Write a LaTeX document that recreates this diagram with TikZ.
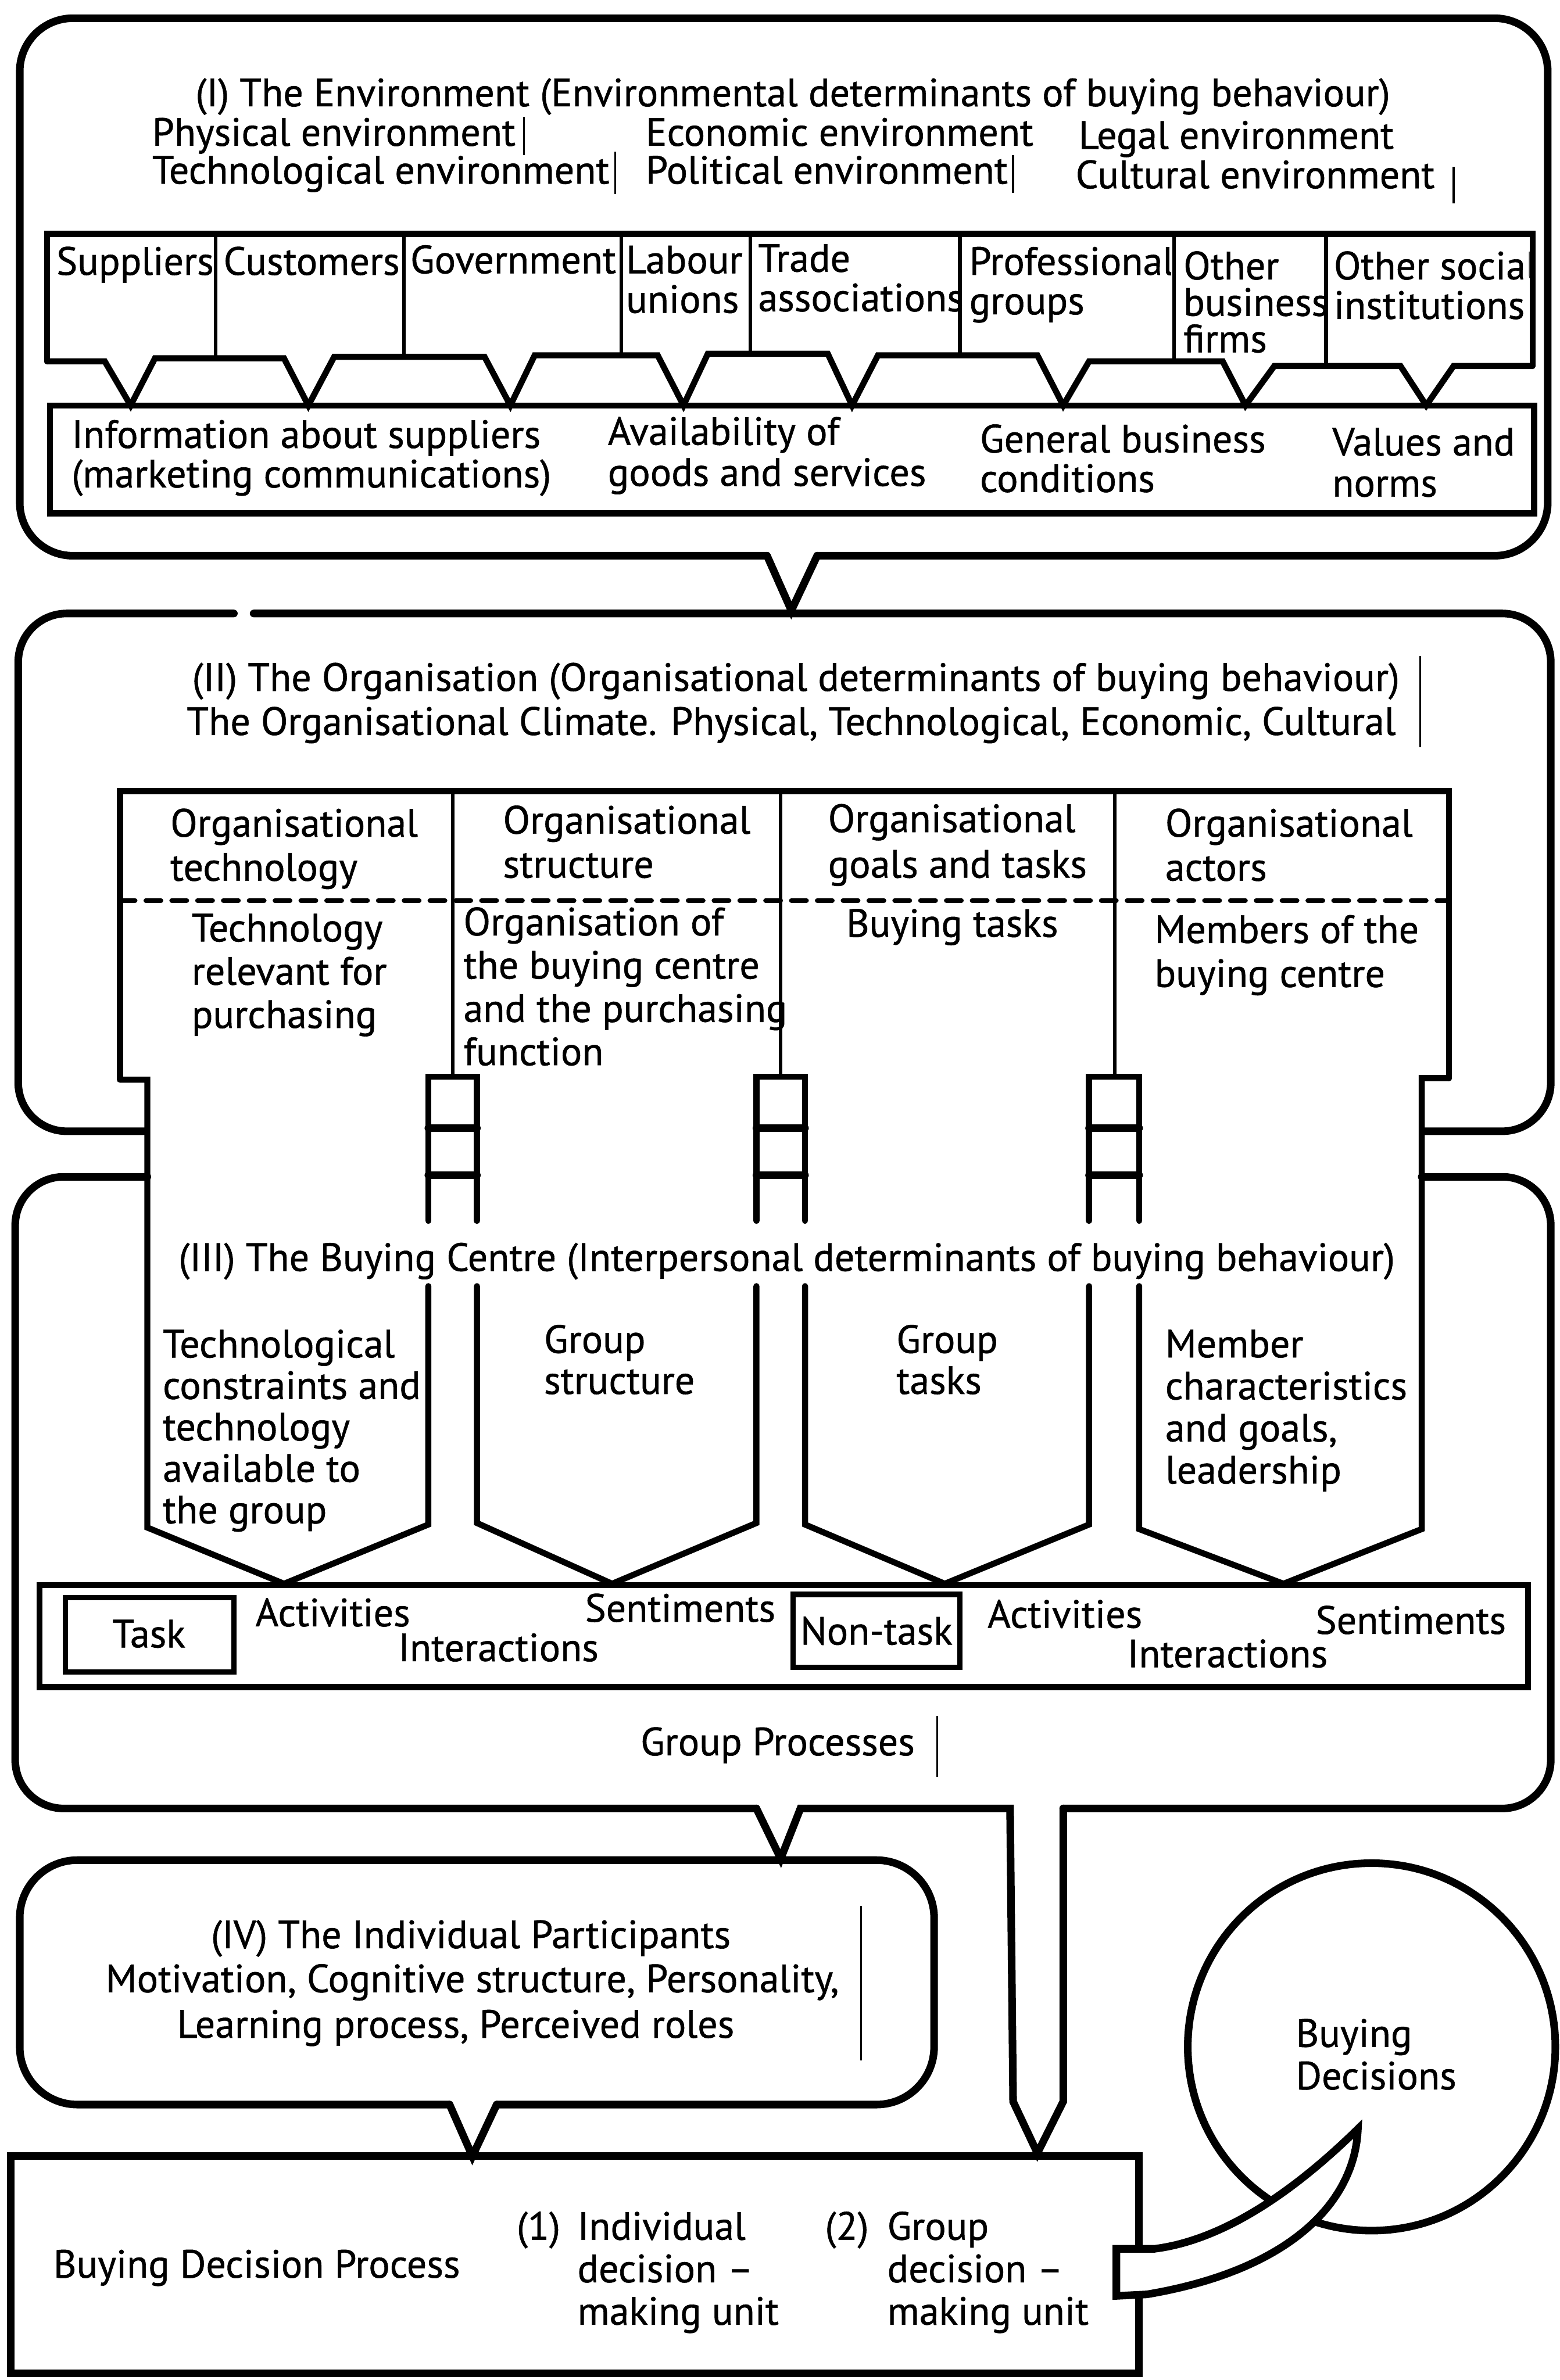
\documentclass[tikz,border=0pt]{standalone}
\usepackage{fontspec}
\setmainfont{PT Sans}[FakeBold=0.8]
\newcommand\dfont{\fontsize{26}{27}\selectfont}
\begin{document}
\begin{tikzpicture}[x=1pt,y=-1pt,
  outer/.style={line width=5pt, line join=round, line cap=round},
  inner/.style={line width=4pt, line join=miter, line cap=round},
  thin/.style={line width=2.4pt, line cap=round},
  bar/.style={line width=1.3pt},
  txt/.style={inner sep=0pt, align=left, font=\dfont},
  ctxt/.style={inner sep=0pt, align=center, font=\dfont},
  lbox/.style={line width=3.5pt, line join=miter}]
\useasboundingbox (0,0) rectangle (1027,1567.4);

% ---------------- (I) The Environment ----------------
\draw[outer, rounded corners=35pt] (505,366) -- (13,366) -- (13,12) -- (1019,12) -- (1019,366) -- (538,366);
\draw[outer, line join=miter] (505,366) -- (521,402) -- (538,366);

\node[txt, anchor=base] (envTitle) at (522,70) {(I) The Environment (Environmental determinants of buying behaviour)};
\node[txt, anchor=base west] (envPhys) at (100,96) {Physical environment};
\node[txt, anchor=base west] (envTech) at (100,121) {Technological environment};
\node[txt, anchor=base west] (envEcon) at (425,96) {Economic environment};
\node[txt, anchor=base west] (envPol) at (425,121) {Political environment};
\node[txt, anchor=base west] (envLegal) at (710,98) {Legal environment};
\node[txt, anchor=base west] (envCult) at (708,124) {Cultural environment};
\draw[bar] (345,77) -- (345,102);
\draw[bar] (405,100) -- (405,128);
\draw[bar] (667,102) -- (667,127);
\draw[bar] (957,110) -- (957,134);

% row of environmental institutions
\draw[inner] (31,238) -- (31,154) -- (1009,154) -- (1009,241);
\draw[inner] (31,238) -- (69,238) -- (86,267) -- (102,236) -- (187,236) -- (203,267)
  -- (220,235) -- (319,235) -- (336,267) -- (352,234) -- (433,234) -- (450,267)
  -- (466,233) -- (545,233) -- (561,267) -- (578,234) -- (683,234) -- (700,267)
  -- (717,238) -- (805,238) -- (820,267) -- (839,241) -- (922,241) -- (939,267)
  -- (957,241) -- (1009,241);
\draw[thin] (142,154) -- (142,236);
\draw[thin] (266,154) -- (266,235);
\draw[thin] (409,154) -- (409,234);
\draw[thin] (494,154) -- (494,233);
\draw[thin] (632,154) -- (632,234);
\draw[thin] (773,154) -- (773,238);
\draw[thin] (873,154) -- (873,241);

\node[txt, anchor=base west] (supp) at (37,181) {Suppliers};
\node[txt, anchor=base west] (cust) at (147,181) {Customers};
\node[txt, anchor=base west] (gov) at (270,180) {Government};
\node[txt, anchor=base west, font=\fontsize{26}{26}\selectfont] (labour) at (412,206) {Labour\\unions};
\node[txt, anchor=base west, font=\fontsize{26}{26}\selectfont] (trade) at (499,205) {Trade\\associations};
\begin{scope}
  \clip (634,150) rectangle (771,236);
  \node[txt, anchor=base west, font=\fontsize{26}{26}\selectfont] (prof) at (638,207) {Professional\\groups};
\end{scope}
\node[txt, anchor=base west, font=\fontsize{26}{24}\selectfont] (otherbus) at (779,232) {Other\\business\\firms};
\begin{scope}
  \clip (875,150) rectangle (1007,240);
  \node[txt, anchor=base west, font=\fontsize{26}{26}\selectfont] (othersoc) at (878,210) {Other social\\institutions};
\end{scope}

% information strip
\draw[inner] (33,267) rectangle (1010,338);
\node[txt, anchor=base west, font=\fontsize{26}{26}\selectfont] (info) at (47,321) {Information about suppliers\\(marketing communications)};
\node[txt, anchor=base west, font=\fontsize{26}{27}\selectfont] (avail) at (400,320) {Availability of\\goods and services};
\node[txt, anchor=base west, font=\fontsize{26}{26}\selectfont] (general) at (645,324) {General business\\conditions};
\node[txt, anchor=base west, font=\fontsize{26}{27}\selectfont] (values) at (877,327) {Values and\\norms};

% ---------------- (II) The Organisation ----------------
\draw[outer, rounded corners=32pt] (154,404) -- (12,404) -- (12,745) -- (96,745);
\draw[outer, rounded corners=32pt] (167,404) -- (1021,404) -- (1021,745) -- (938,745);

\node[txt, anchor=base] (orgTitle) at (524,455) {(II) The Organisation (Organisational determinants of buying behaviour)};
\node[txt, anchor=base] (orgClimate) at (521,484) {The Organisational Climate. Physical, Technological, Economic, Cultural};
\draw[bar] (935,432) -- (935,492);

% four organisational columns
\draw[inner] (79,711) -- (79,521) -- (954,521) -- (954,710);
\draw[inner] (79,711) -- (97,711) -- (97,1006) -- (187,1043) -- (282,1004) -- (282,847);
\draw[inner] (282,804) -- (282,709) -- (314,709) -- (314,804);
\draw[inner] (314,847) -- (314,1003) -- (403,1043) -- (498,1003) -- (498,847);
\draw[inner] (498,804) -- (498,709) -- (530,709) -- (530,804);
\draw[inner] (530,847) -- (530,1004) -- (622,1043) -- (717,1004) -- (717,847);
\draw[inner] (717,804) -- (717,709) -- (750,709) -- (750,804);
\draw[inner] (750,847) -- (750,1007) -- (845,1043) -- (936,1007) -- (936,710) -- (954,710);
\draw[thin] (298,521) -- (298,709);
\draw[thin] (514,521) -- (514,709);
\draw[thin] (734,521) -- (734,709);
\draw[thin, line width=3pt, dash pattern=on 10pt off 7pt] (79,593) -- (954,593);

\node[txt, anchor=base west, font=\fontsize{26}{29}\selectfont] (hTech) at (112,580) {Organisational\\technology};
\node[txt, anchor=base west, font=\fontsize{26}{29}\selectfont] (hStruct) at (331,578) {Organisational\\structure};
\node[txt, anchor=base west, font=\fontsize{26}{30}\selectfont] (hGoals) at (545,578) {Organisational\\goals and tasks};
\node[txt, anchor=base west, font=\fontsize{26}{29}\selectfont] (hActors) at (767,580) {Organisational\\actors};
\node[txt, anchor=base west, font=\fontsize{26}{28.5}\selectfont] (bTech) at (126,677) {Technology\\relevant for\\purchasing};
\node[txt, anchor=base west, font=\fontsize{26}{28.5}\selectfont] (bStruct) at (305,701.5) {Organisation of\\the buying centre\\and the purchasing\\function};
\node[txt, anchor=base west] (bGoals) at (557,617) {Buying tasks};
\node[txt, anchor=base west, font=\fontsize{26}{29}\selectfont] (bActors) at (760,650) {Members of the\\buying centre};

% ---------------- (III) The Buying Centre ----------------
\draw[outer] (282,743) -- (314,743);
\draw[outer] (498,743) -- (530,743);
\draw[outer] (717,743) -- (750,743);
\draw[outer] (282,774) -- (314,774);
\draw[outer] (498,774) -- (530,774);
\draw[outer] (717,774) -- (750,774);
\draw[outer, rounded corners=32pt] (498,1191) -- (10,1191) -- (10,775) -- (97,775);
\draw[outer, line join=miter] (498,1191) -- (514,1224) -- (527,1191) -- (665,1191)
  -- (667,1384) -- (683,1418) -- (700,1384) -- (700,1191);
\draw[outer, rounded corners=32pt] (700,1191) -- (1021,1191) -- (1021,775) -- (936,775);

\node[txt, anchor=base] (bcTitle) at (518,837) {(III) The Buying Centre (Interpersonal determinants of buying behaviour)};
\node[txt, anchor=base west, font=\fontsize{26}{27.3}\selectfont] (cTech) at (107,1003.2) {Technological\\constraints and\\technology\\available to\\the group};
\node[txt, anchor=base west] (cStruct) at (358,918) {Group\\structure};
\node[txt, anchor=base west] (cTasks) at (590,918) {Group\\tasks};
\node[txt, anchor=base west, font=\fontsize{26}{27.7}\selectfont] (cMember) at (767,977) {Member\\characteristics\\and goals,\\leadership};

% group processes strip
\draw[inner] (26,1044) rectangle (1006,1111);
\draw[lbox] (43,1052) rectangle (154,1101);
\draw[lbox] (522,1050) rectangle (632,1098);
\node[ctxt] (task) at (98,1076) {Task};
\node[ctxt] (nontask) at (577,1074) {Non-task};
\node[txt, anchor=base west] (actA) at (168,1071) {Activities};
\node[txt, anchor=base west] (sentA) at (385,1068) {Sentiments};
\node[txt, anchor=base west] (interA) at (262,1094) {Interactions};
\node[txt, anchor=base west] (actB) at (650,1072) {Activities};
\node[txt, anchor=base west] (sentB) at (866,1076) {Sentiments};
\node[txt, anchor=base west] (interB) at (742,1098) {Interactions};
\node[txt, anchor=base] (groupProc) at (512,1156) {Group Processes};
\draw[bar] (617,1130) -- (617,1170);

% ---------------- (IV) The Individual Participants ----------------
\draw[outer, rounded corners=38pt] (296,1386) -- (13,1386) -- (13,1225) -- (615,1225) -- (615,1386) -- (327,1386);
\draw[outer, line join=miter] (296,1386) -- (311,1420) -- (327,1386);
\node[txt, anchor=base] (indTitle) at (310,1283) {(IV) The Individual Participants};
\node[txt, anchor=base] (indA) at (311,1312) {Motivation, Cognitive structure, Personality,};
\node[txt, anchor=base] (indB) at (300,1342) {Learning process, Perceived roles};
\draw[bar] (567,1255) -- (567,1357);

% ---------------- Buying Decision Process ----------------
\draw[outer, line join=miter] (750,1481) -- (750,1420) -- (7,1420) -- (7,1563) -- (750,1563) -- (750,1512);
\node[txt, anchor=base west] (bdp) at (35,1500) {Buying Decision Process};
\node[txt, anchor=base west] (one) at (340,1475) {(1)};
\node[txt, anchor=base west, font=\fontsize{26}{28}\selectfont] (indiv) at (380,1531) {Individual\\decision --\\making unit};
\node[txt, anchor=base west] (two) at (543,1475) {(2)};
\node[txt, anchor=base west, font=\fontsize{26}{28}\selectfont] (group) at (584,1531) {Group\\decision --\\making unit};

% ---------------- Buying Decisions ----------------
\draw[outer] (903,1348) circle (121);
\node[txt, anchor=base west, font=\fontsize{26}{28}\selectfont] (decisions) at (853,1376) {Buying\\Decisions};
\draw[outer, line join=miter, fill=white] (750,1481) -- (735,1481) -- (735,1512) -- (755,1511)
  .. controls (850,1495) and (892,1450) .. (894,1402)
  .. controls (845,1450) and (800,1476) .. (760,1481) -- cycle;
\draw[outer] (750,1420) -- (750,1481);
\end{tikzpicture}
\end{document}
